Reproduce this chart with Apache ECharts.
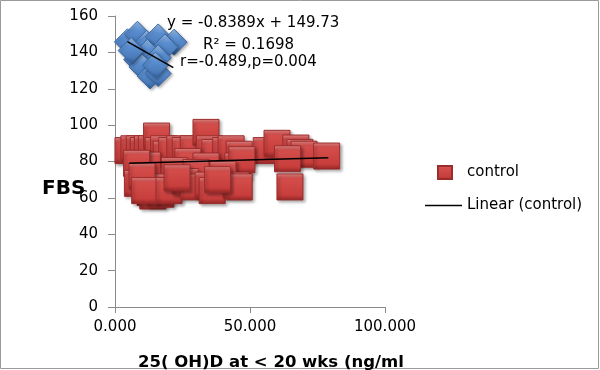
<!DOCTYPE html>
<html>
<head>
<meta charset="utf-8">
<script src="https://cdn.jsdelivr.net/npm/echarts@6/dist/echarts.min.js"></script>
<style>html,body{margin:0;padding:0;background:#fff}#c{width:600px;height:370px}</style>
</head>
<body>
<div id="c"></div>
<script>
// ---- data ----
var controlX = [4.8, 7, 9, 10.5, 12, 13.5, 15.4, 16, 18, 19, 21, 24, 26, 29, 33.7, 35, 37, 41, 43, 46, 56, 60, 67, 68.5, 70, 78.4, 63.9, 27, 33.7, 45.5, 47, 12, 8, 22, 30, 40, 15.4, 8.3, 10, 13, 14, 17, 11, 20, 26, 29, 34.5, 36, 44.8, 46, 64.8, 23, 38];
var controlY = [86, 87, 87, 86, 87, 87, 94, 86, 87, 84, 86, 87, 86, 87, 96, 87, 85, 86, 87, 84, 86, 90, 87.4, 85, 84, 83, 81.5, 80, 77.5, 77.5, 81, 78, 79, 75, 74, 73, 66, 68, 72, 63, 61, 62, 64, 64, 69, 66, 67, 64, 67, 66, 66, 71, 70];
var caseX = [4.6, 8.3, 11.7, 16, 21.9, 18.5, 8, 12, 16, 10, 13, 16, 15, 6];
var caseY = [145.8, 150, 145, 148.5, 145.6, 143, 136, 140, 137, 132, 127, 128.4, 133, 141];
var trendControlX = [5.3, 79];
var trendControlY = [79.0, 82.1];
var trendCaseX = [4.6, 21.6];
var trendCaseY = [145.9, 131.6];
var xTicks = [0, 50, 100];
var yTicks = [0, 20, 40, 60, 80, 100, 120, 140, 160];
var seriesNames = ['control', 'Linear (control)'];
var eqTexts = ['y = -0.8389x + 149.73', 'R\u00b2 = 0.1698', 'r=-0.489,p=0.004'];
var xTitle = '25( OH)D at < 20 wks (ng/ml';
var yTitle = 'FBS';

function zip(a, b) { return a.map(function (v, i) { return [v, b[i]]; }); }

var chart = echarts.init(document.getElementById('c'), null, {renderer: 'canvas'});
var FONT = 'DejaVu Sans';
var redGrad = new echarts.graphic.LinearGradient(0, 0, 0, 1, [
  {offset: 0, color: '#ee8f8d'}, {offset: 0.18, color: '#d44e4c'},
  {offset: 0.8, color: '#c73e3c'}, {offset: 1, color: '#922625'}]);
var blueGrad = new echarts.graphic.LinearGradient(0, 0, 0, 1, [
  {offset: 0, color: '#9dbfe8'}, {offset: 0.35, color: '#5b8fd0'},
  {offset: 0.75, color: '#4a7bbb'}, {offset: 1, color: '#2d5a95'}]);

chart.setOption({
  animation: false,
  grid: {left: 115, right: 215, top: 16, bottom: 63},
  xAxis: {
    type: 'value', min: xTicks[0], max: xTicks[xTicks.length - 1], interval: 50,
    splitLine: {show: false},
    axisLine: {show: true, onZero: false, lineStyle: {color: '#8a8a8a'}},
    axisTick: {show: true, length: 6, lineStyle: {color: '#8a8a8a'}},
    axisLabel: {margin: 13, color: '#000', fontFamily: FONT, fontSize: 15,
      formatter: function (v) { return v.toFixed(3); }}
  },
  yAxis: {
    type: 'value', min: yTicks[0], max: yTicks[yTicks.length - 1], interval: 20,
    splitLine: {show: false},
    axisLine: {show: true, onZero: false, lineStyle: {color: '#8a8a8a'}},
    axisTick: {show: true, length: 7, lineStyle: {color: '#8a8a8a'}},
    axisLabel: {margin: 17, color: '#000', fontFamily: FONT, fontSize: 15}
  },
  legend: [
    {data: [{name: seriesNames[0], icon: 'rect'}], left: 432, top: 160, orient: 'vertical',
      itemWidth: 14, itemHeight: 13,
      textStyle: {fontFamily: FONT, fontSize: 15, color: '#000', padding: [0, 0, 0, 10]}},
    {data: [{name: seriesNames[1], icon: 'rect'}], left: 420, top: 193, orient: 'vertical',
      itemWidth: 37, itemHeight: 1.5,
      itemStyle: {color: '#000', borderWidth: 0, shadowBlur: 0},
      textStyle: {fontFamily: FONT, fontSize: 15, color: '#000'}}
  ],
  series: [
    {name: 'case', type: 'scatter', symbol: 'diamond', symbolSize: 26,
      data: zip(caseX, caseY),
      itemStyle: {color: blueGrad, borderColor: '#3b69a6', borderWidth: 1, opacity: 1,
        shadowColor: 'rgba(0,0,0,0.3)', shadowBlur: 3, shadowOffsetX: 1.5, shadowOffsetY: 1.5}},
    {name: seriesNames[0], type: 'scatter', symbol: 'rect', symbolSize: 26,
      data: zip(controlX, controlY),
      itemStyle: {color: redGrad, borderColor: '#9a2c2b', borderWidth: 1, opacity: 1,
        shadowColor: 'rgba(0,0,0,0.35)', shadowBlur: 3, shadowOffsetX: 2, shadowOffsetY: 2}},
    {name: seriesNames[1], type: 'line', symbol: 'none', data: zip(trendControlX, trendControlY),
      lineStyle: {color: '#000', width: 1.5}, itemStyle: {color: '#000'}, z: 5},
    {name: 'Linear (case)', type: 'line', symbol: 'none', data: zip(trendCaseX, trendCaseY),
      lineStyle: {color: '#000', width: 1.5}, itemStyle: {color: '#000'}, z: 5}
  ],
  graphic: [
    {type: 'rect', shape: {x: 0.5, y: 0.5, width: 598, height: 368}, style: {fill: null, stroke: '#9a9a9a', lineWidth: 1}, silent: true, z: -1},
    {type: 'text', left: 167, top: 16, style: {text: eqTexts[0], font: '15px "DejaVu Sans"', fill: '#000'}, z: 10},
    {type: 'text', left: 203, top: 38, style: {text: eqTexts[1], font: '15px "DejaVu Sans"', fill: '#000'}, z: 10},
    {type: 'text', left: 180, top: 55, style: {text: eqTexts[2], font: '15px "DejaVu Sans"', fill: '#000'}, z: 10},
    {type: 'text', left: 42, top: 179, style: {text: yTitle, font: 'bold 20px "DejaVu Sans"', fill: '#000'}, z: 10},
    {type: 'text', left: 138, top: 354, style: {text: xTitle, font: 'bold 16.5px "DejaVu Sans"', fill: '#000'}, z: 10}
  ]
});
</script>
</body>
</html>
